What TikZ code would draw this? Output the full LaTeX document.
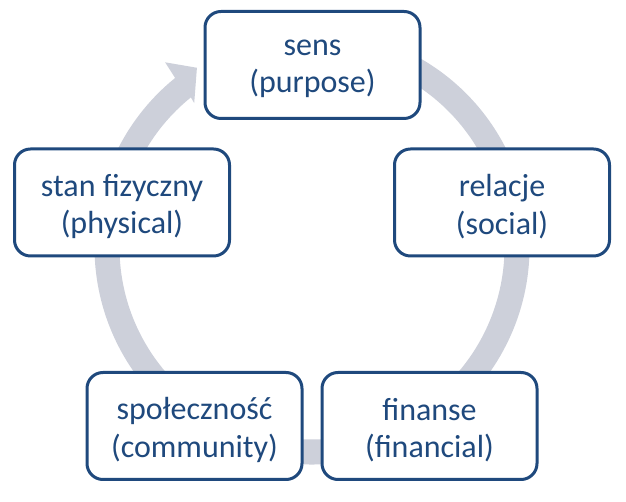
\documentclass[tikz,border=0pt]{standalone}
\usepackage{fontspec}
\setmainfont{Carlito}
\definecolor{boxblue}{HTML}{1F497D}
\definecolor{ringgray}{HTML}{CDD0DA}
\begin{document}
\begin{tikzpicture}[x=1pt,y=1pt,
  stage/.style={draw=boxblue, line width=3pt, fill=white, rounded corners=16pt,
    minimum width=215pt, minimum height=107pt, inner sep=0pt},
  stagetext/.style={align=center, text=boxblue, inner sep=0pt, yshift=-4pt,
    font=\fontsize{32}{37.5}\selectfont}]
\useasboundingbox (0,0) rectangle (626,502);
\coordinate (c) at (312,255);
\fill[ringgray] ([shift={(60:217.5)}]c) arc[start angle=60, end angle=-231, radius=217.5]
  -- ([shift={(-231.5:236)}]c) -- ([shift={(-237.3:213)}]c) -- ([shift={(-230.7:186)}]c)
  -- ([shift={(-231:192.5)}]c) arc[start angle=-231, end angle=60, radius=192.5] -- cycle;
\node[stage, label={[stagetext]center:sens\\(purpose)}] (sens) at (312.5,437) {};
\node[stage, label={[stagetext]center:relacje\\(social)}] (relacje) at (502,299.5) {};
\node[stage, label={[stagetext]center:finanse\\(financial)}] (finanse) at (429.5,76) {};
\node[stage, label={[stagetext]center:społeczność\\(community)}] (spol) at (194.5,76) {};
\node[stage, label={[stagetext]center:stan fizyczny\\(physical)}] (stan) at (122,299.5) {};
\end{tikzpicture}
\end{document}
